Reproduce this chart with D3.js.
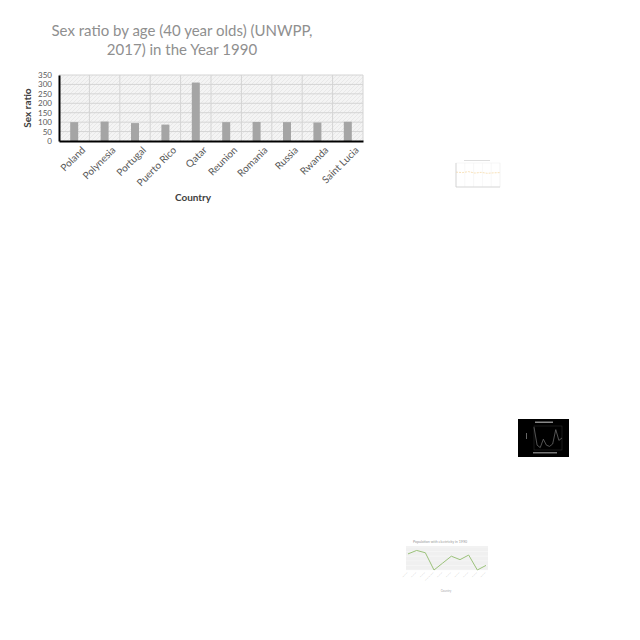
<!DOCTYPE html>
<html><head><meta charset="utf-8">
<script src="https://cdn.jsdelivr.net/npm/d3@7"></script>
<style>html,body{margin:0;padding:0;background:#fff;}svg{display:block;}</style>
</head><body>
<svg id="c" width="640" height="640"></svg>
<script>
const countries = ["Poland","Polynesia","Portugal","Puerto Rico","Qatar","Reunion","Romania","Russia","Rwanda","Saint Lucia"];
const sexRatio = [100, 103, 95, 87, 310, 100, 101, 100, 98, 102];
const yTicks = [0, 50, 100, 150, 200, 250, 300, 350];

// small inset thumbnails
const thumbA = [62, 60, 64, 58, 61, 57, 59, 60];
const thumbB = [95, 20, 10, 45, 20, 15, 25, 85, 40, 50];
const thumbC = [70, 85, 75, 0, 30, 60, 45, 65, 0, 20];

const svg = d3.select("#c");
const font = "Lato, 'Open Sans', sans-serif";

// main chart
const m = {l: 59, r: 363, t: 75, b: 141};
const x = d3.scaleBand().domain(countries).range([m.l, m.r]);
const y = d3.scaleLinear().domain([0, 350]).range([m.b, m.t]);

const defs = svg.append("defs");
const pat = defs.append("pattern").attr("id","hatch").attr("patternUnits","userSpaceOnUse").attr("width",4).attr("height",4);
pat.append("rect").attr("width",4).attr("height",4).attr("fill","#f4f4f4");
pat.append("path").attr("d","M0,4 L4,0").attr("stroke","#e4e4e4").attr("stroke-width",0.8);

svg.append("rect").attr("x",m.l).attr("y",m.t).attr("width",m.r-m.l).attr("height",m.b-m.t).attr("fill","url(#hatch)");

// gridlines
svg.append("g").selectAll("line").data(yTicks.slice(1)).join("line")
  .attr("x1",m.l).attr("x2",m.r).attr("y1",d=>y(d)).attr("y2",d=>y(d))
  .attr("stroke","#d4d4d4").attr("stroke-width",1);
svg.append("g").selectAll("line").data(countries.slice(1).concat(["__end"])).join("line")
  .attr("x1",d=>d==="__end"?m.r:x(d)).attr("x2",d=>d==="__end"?m.r:x(d))
  .attr("y1",m.t).attr("y2",m.b).attr("stroke","#d4d4d4").attr("stroke-width",1);

// bars
const bw = 8;
svg.append("g").selectAll("rect").data(countries).join("rect")
  .attr("x",(d)=>x(d)+x.bandwidth()/2-bw/2).attr("width",bw)
  .attr("y",(d,i)=>y(sexRatio[i])).attr("height",(d,i)=>y(0)-y(sexRatio[i]))
  .attr("fill","#a5a5a5");

// axes
const ya = svg.append("g").attr("transform",`translate(${m.l},0)`)
  .call(d3.axisLeft(y).tickValues(yTicks).tickSize(0).tickPadding(7));
ya.select(".domain").attr("stroke","#000").attr("stroke-width",2);
ya.selectAll("text").attr("font-family",font).attr("font-size",8).attr("fill","#595959");

const xa = svg.append("g").attr("transform",`translate(0,${m.b})`)
  .call(d3.axisBottom(x).tickSize(0).tickPadding(6));
xa.select(".domain").attr("stroke","#000").attr("stroke-width",2);
xa.selectAll("text").attr("font-family",font).attr("font-size",10).attr("fill","#595959")
  .attr("text-anchor","end").attr("dy","0.35em")
  .attr("transform","translate(5,3) rotate(-45)");

// title and labels
const title = svg.append("text").attr("x",182).attr("font-family",font).attr("font-size",15)
  .attr("font-weight",400).attr("fill","#8f8f8f").attr("text-anchor","middle");
title.append("tspan").attr("x",182).attr("y",36).text("Sex ratio by age (40 year olds) (UNWPP,");
title.append("tspan").attr("x",182).attr("y",55).text("2017) in the Year 1990");

svg.append("text").attr("transform","translate(31,108) rotate(-90)").attr("text-anchor","middle")
  .attr("font-family",font).attr("font-size",10).attr("font-weight","bold").attr("fill","#404040").text("Sex ratio");
svg.append("text").attr("x",193).attr("y",201).attr("text-anchor","middle")
  .attr("font-family",font).attr("font-size",10).attr("font-weight","bold").attr("fill","#404040").text("Country");

// ---- thumbnail A (light, orange line)
(function(){
  const g = svg.append("g");
  const xs = d3.scalePoint().domain(d3.range(thumbA.length)).range([456, 500]);
  const ys = d3.scaleLinear().domain([0, 100]).range([187, 163]);
  g.append("rect").attr("x",456).attr("y",163).attr("width",44).attr("height",24).attr("fill","#fff").attr("stroke","#eee").attr("stroke-width",0.5);
  g.selectAll("line.v").data(d3.range(6)).join("line").attr("x1",d=>456+d*8.8).attr("x2",d=>456+d*8.8).attr("y1",163).attr("y2",187).attr("stroke","#f0f0f0").attr("stroke-width",0.5);
  g.append("path").datum(thumbA).attr("fill","none").attr("stroke","#f5d9a8").attr("stroke-width",0.8).attr("stroke-dasharray","2,1")
    .attr("d",d3.line().x((d,i)=>xs(i)).y(d=>ys(d)));
  g.append("line").attr("x1",464).attr("x2",490).attr("y1",160.5).attr("y2",160.5).attr("stroke","#ddd").attr("stroke-width",1);
  g.append("line").attr("x1",456).attr("x2",500).attr("y1",187).attr("y2",187).attr("stroke","#ccc").attr("stroke-width",0.7);
  g.append("line").attr("x1",456).attr("x2",456).attr("y1",163).attr("y2",187).attr("stroke","#ccc").attr("stroke-width",0.7);
})();

// ---- thumbnail B (black background, gray line)
(function(){
  const g = svg.append("g");
  g.append("rect").attr("x",518).attr("y",419).attr("width",51).attr("height",38).attr("fill","#000");
  const xs = d3.scalePoint().domain(d3.range(thumbB.length)).range([534, 562]);
  const ys = d3.scaleLinear().domain([0, 100]).range([450, 426]);
  g.append("rect").attr("x",534).attr("y",426).attr("width",28).attr("height",24).attr("fill","none").attr("stroke","#333").attr("stroke-width",0.5);
  g.append("path").datum(thumbB).attr("fill","none").attr("stroke","#777").attr("stroke-width",0.7)
    .attr("d",d3.line().x((d,i)=>xs(i)).y(d=>ys(d)));
  g.append("rect").attr("x",535).attr("y",421.5).attr("width",18).attr("height",1.5).attr("fill","#888");
  g.append("rect").attr("x",533).attr("y",452).attr("width",24).attr("height",1.5).attr("fill","#777");
  g.append("rect").attr("x",526).attr("y",433).attr("width",1).attr("height",6).attr("fill","#666");
})();

// ---- thumbnail C (green line)
(function(){
  const g = svg.append("g");
  const xs = d3.scalePoint().domain(d3.range(thumbC.length)).range([408, 486]);
  const ys = d3.scaleLinear().domain([0, 100]).range([570, 547]);
  g.append("rect").attr("x",406).attr("y",546).attr("width",82).attr("height",24).attr("fill","#f0f0f0");
  g.selectAll("line.h").data([0,20,40,60,80,100]).join("line").attr("x1",406).attr("x2",488).attr("y1",d=>ys(d)).attr("y2",d=>ys(d)).attr("stroke","#fafafa").attr("stroke-width",0.5);
  g.append("path").datum(thumbC).attr("fill","none").attr("stroke","#9bc27a").attr("stroke-width",1)
    .attr("d",d3.line().x((d,i)=>xs(i)).y(d=>ys(d)));
  g.append("text").attr("x",440).attr("y",543).attr("text-anchor","middle").attr("font-family",font).attr("font-size",3.6).attr("fill","#999").text("Population with electricity in 1990");
  g.selectAll("text.xl").data(thumbC).join("text").attr("font-family",font).attr("font-size",3).attr("fill","#aaa")
    .attr("text-anchor","end").attr("transform",(d,i)=>`translate(${xs(i)},573) rotate(-45)`).text((d,i)=>i===3?"—————":"———");
  g.append("text").attr("x",446).attr("y",592).attr("text-anchor","middle").attr("font-family",font).attr("font-size",3).attr("fill","#aaa").text("Country");
})();
</script>
</body></html>
